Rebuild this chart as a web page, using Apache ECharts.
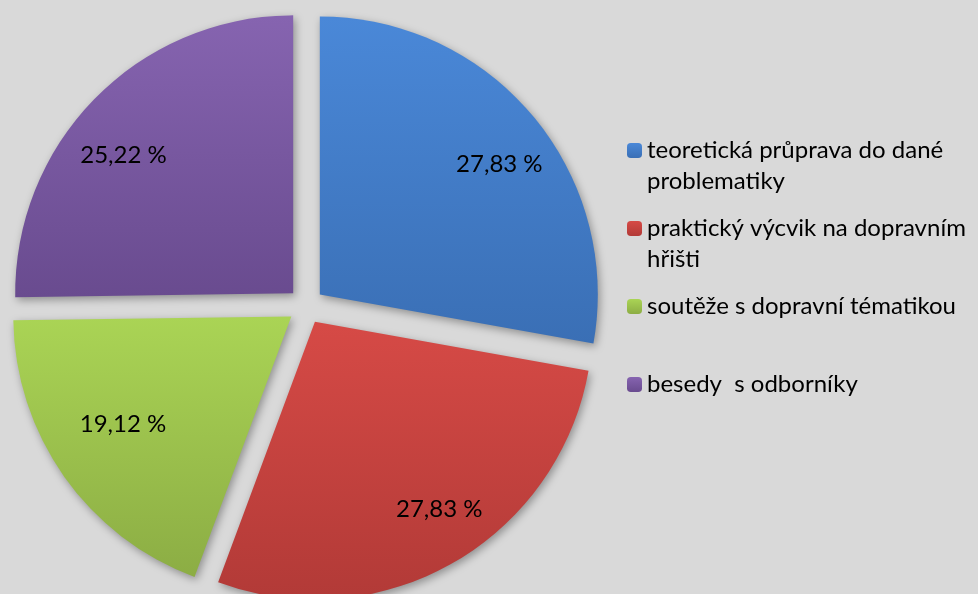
<!DOCTYPE html>
<html>
<head>
<meta charset="utf-8">
<title>Pie</title>
<script src="https://cdn.jsdelivr.net/npm/echarts@6/dist/echarts.min.js"></script>
<style>
  html, body { margin: 0; padding: 0; background: #d9d9d9; }
  #myChart { width: 978px; height: 594px; }
</style>
</head>
<body>
<div id="myChart"></div>
<script>
// data
var categories = ['teoretická průprava do dané problematiky', 'praktický výcvik na dopravním hřišti', 'soutěže s dopravní tématikou', 'besedy  s odborníky'];
// blank first line keeps the icon level with the first text line
var legendText = ['\u00a0\nteoretická průprava do dané\nproblematiky', '\u00a0\npraktický výcvik na dopravním\nhřišti', '\u00a0\nsoutěže s dopravní tématikou\n\u00a0', '\u00a0\nbesedy  s odborníky\n\u00a0'];
var values = [27.83, 27.83, 19.12, 25.22];

// styling
var colors = [
  ['#4a88d8', '#3a6fb5'],
  ['#d64a46', '#b23a37'],
  ['#aad455', '#8cad44'],
  ['#8664b0', '#694b8f']
];
var labelNudge = [[15, 7], [18, 1], [7, -16], [-17, 13]];

var font = 'Lato';
var R = 278;
var center = [306, 306];

function grad(c) {
  return new echarts.graphic.LinearGradient(0, 0, 0, 1, [
    { offset: 0, color: c[0] },
    { offset: 1, color: c[1] }
  ]);
}

var pieData = categories.map(function (name, i) {
  return { name: name, value: values[i], selected: true, itemStyle: { color: grad(colors[i]) } };
});
var labelData = categories.map(function (name, i) {
  return { name: name, value: values[i], selected: true };
});

var myChart = echarts.init(document.getElementById('myChart'));
myChart.setOption({
  animation: false,
  backgroundColor: '#d9d9d9',
  legend: {
    orient: 'vertical',
    left: 627,
    top: 104,
    padding: 0,
    itemWidth: 15,
    itemHeight: 15,
    itemGap: -15,
    selectedMode: false,
    data: categories,
    formatter: function (name) {
      return legendText[categories.indexOf(name)];
    },
    textStyle: {
      fontFamily: font,
      fontSize: 24,
      color: '#000',
      lineHeight: 31
    }
  },
  series: [{
    name: 'pie',
    type: 'pie',
    center: center,
    radius: R,
    startAngle: 90,
    selectedMode: 'multiple',
    selectedOffset: 18,
    silent: true,
    label: { show: false },
    labelLine: { show: false },
    itemStyle: {
      shadowBlur: 8,
      shadowColor: 'rgba(0,0,0,0.35)',
      shadowOffsetX: 2,
      shadowOffsetY: 3
    },
    data: pieData
  }, {
    name: 'labels',
    type: 'pie',
    center: center,
    radius: [Math.round(R * 0.52), R],
    startAngle: 90,
    selectedMode: 'multiple',
    selectedOffset: 18,
    silent: true,
    itemStyle: { color: 'rgba(0,0,0,0)' },
    label: {
      show: true,
      position: 'inside',
      fontFamily: font,
      fontSize: 24,
      color: '#000',
      formatter: function (p) {
        return p.value.toFixed(2).replace('.', ',') + ' %';
      }
    },
    labelLayout: function (params) {
      var n = labelNudge[params.dataIndex];
      return { dx: n[0], dy: n[1] };
    },
    labelLine: { show: false },
    data: labelData
  }]
});
</script>
</body>
</html>
